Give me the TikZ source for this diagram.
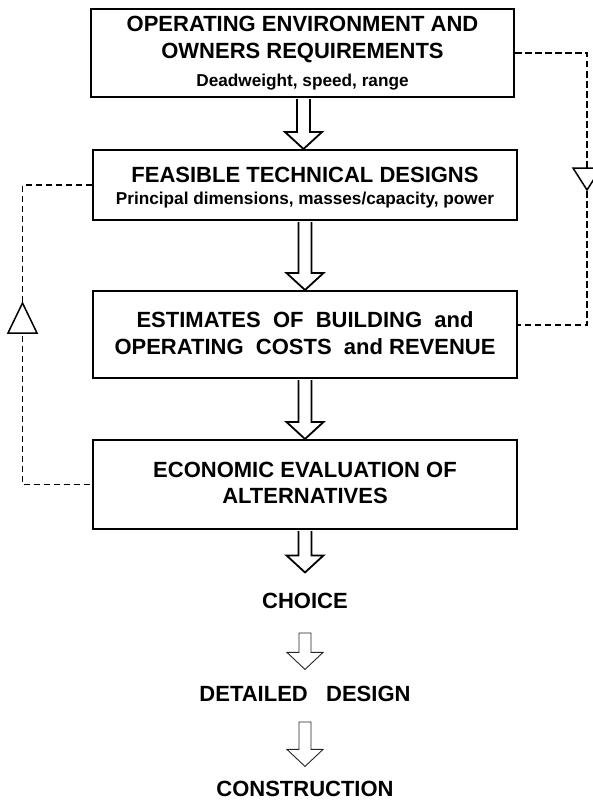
\documentclass[tikz,border=0pt]{standalone}
\usepackage{fontspec}
\setmainfont{Liberation Sans}
\usetikzlibrary{calc}

% hollow block arrow: style, from, to, shaft half width, head half width, closing
\newcommand\hollowarrow[6]{%
  \draw[#1] let \p1=(#2), \p2=(#3) in
    (\x1-#4,\y1) -- (\x1-#4,\y2+17pt) -- (\x1-#5,\y2+17pt) -- (\x1,\y2)
    -- (\x1+#5,\y2+17pt) -- (\x1+#4,\y2+17pt) -- (\x1+#4,\y1) #6;
}

\begin{document}
\begin{tikzpicture}[x=1pt,y=-1pt,
  stage/.style={draw=black, line width=2pt, fill=white, inner sep=0pt},
  head/.style={font=\fontsize{22}{26}\selectfont\bfseries, inner sep=0pt, anchor=base},
  sub/.style={font=\fontsize{17.2}{20}\selectfont\bfseries, inner sep=0pt, anchor=base},
  feedback/.style={draw=black, line width=1.8pt, dash pattern=on 6.5pt off 3.5pt},
  marker/.style={draw=black, line width=1.5pt, fill=white, line join=miter},
  bigflow/.style={draw=black, line width=1.8pt, fill=white, line join=miter},
  thinflow/.style={draw=black!85, line width=0.9pt, fill=white, line join=miter}]

\useasboundingbox (0,0) rectangle (593,800);

% process boxes
\node[stage, minimum width=423pt, minimum height=88pt] (b1) at (302.5,53) {};
\node[stage, minimum width=424pt, minimum height=70pt] (b2) at (305,185) {};
\node[stage, minimum width=424pt, minimum height=87pt] (b3) at (305,334.5) {};
\node[stage, minimum width=424pt, minimum height=89pt] (b4) at (305,484.5) {};

% box texts
\node[head] (t1a) at (302.5,32) {OPERATING ENVIRONMENT AND};
\node[head] (t1b) at (302.5,59) {OWNERS REQUIREMENTS};
\node[sub]  (t1c) at (302.5,86) {Deadweight, speed, range};

\node[head] (t2a) at (305,182) {FEASIBLE TECHNICAL DESIGNS};
\node[sub]  (t2b) at (305,204) {Principal dimensions, masses/capacity, power};

\node[head] (t3a) at (305,327) {ESTIMATES\ \ OF\ \ BUILDING\ \ and};
\node[head] (t3b) at (305,354) {OPERATING\ \ COSTS\ \ and REVENUE};

\node[head] (t4a) at (305,477) {ECONOMIC EVALUATION OF};
\node[head] (t4b) at (305,503) {ALTERNATIVES};

% outcome labels
\node[head] (choice) at (305,608) {CHOICE};
\node[head] (detail) at (305,701) {DETAILED\ \ \ DESIGN};
\node[head] (constr) at (305,796) {CONSTRUCTION};

% main flow
\hollowarrow{bigflow}{$(b1.south)+(1,1)$}{$(b1.south|-b2.north)+(1,0)$}{6.5pt}{18.5pt}{}
\hollowarrow{bigflow}{$(b2.south)+(0,1)$}{b3.north}{6.5pt}{18.5pt}{}
\hollowarrow{bigflow}{$(b3.south)+(0,1)$}{b4.north}{6.5pt}{18.5pt}{}
\hollowarrow{bigflow}{$(b4.south)+(0,1)$}{$(choice.north)+(0,-20)$}{6.5pt}{18.5pt}{}
\hollowarrow{thinflow}{$(choice.base)+(0,25)$}{$(detail.north)+(0,-16)$}{6pt}{18pt}{-- cycle}
\hollowarrow{thinflow}{$(detail.base)+(0,21)$}{$(constr.north)+(0,-14)$}{6pt}{18pt}{-- cycle}

% feedback loops
\coordinate (xr) at (587,0);
\coordinate (xl) at (22.5,0);
\draw[feedback] (b1.east) -| ($(xr|-b3.east)+(0,-9.5)$) -- ($(b3.east)+(0,-9.5)$);
\draw[feedback] (b2.west) -| (xl|-b4.west) -- (b4.west);

% direction markers on the loops
\draw[marker] (573,168) -- (601,168) -- (587,190) -- cycle;
\draw[marker] (8,333) -- (37,333) -- (22.5,303) -- cycle;

\end{tikzpicture}
\end{document}
